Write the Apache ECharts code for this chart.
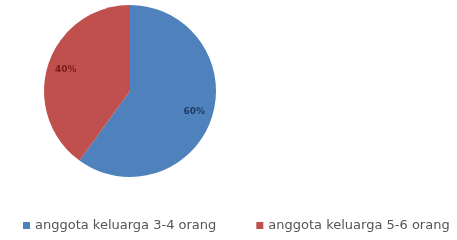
<!DOCTYPE html>
<html>
<head>
<meta charset="utf-8">
<script src="https://cdn.jsdelivr.net/npm/echarts@6/dist/echarts.min.js"></script>
<style>
  html, body { margin: 0; padding: 0; background: #fff; }
  #main { width: 457px; height: 240px; }
</style>
</head>
<body>
<div id="main"></div>
<script>
// data
var categories = ['anggota keluarga 3-4 orang', 'anggota keluarga 5-6 orang'];
var values = [60, 40];
var colors = ['#4f81bd', '#c0504d'];
var labelColors = ['#1f3a66', '#7a1c1a'];

var pieData = categories.map(function (name, i) {
  return { name: name, value: values[i], itemStyle: { color: colors[i] } };
});
var labelData = categories.map(function (name, i) {
  return {
    name: name, value: values[i],
    itemStyle: { color: 'rgba(0,0,0,0)' },
    label: { color: labelColors[i] }
  };
});

var chart = echarts.init(document.getElementById('main'));
chart.setOption({
  animation: false,
  legend: {
    orient: 'horizontal',
    bottom: 8,
    left: 23,
    width: 434,
    padding: 0,
    itemWidth: 7,
    itemHeight: 7,
    itemGap: 40,
    icon: 'rect',
    textStyle: { fontFamily: 'DejaVu Sans', fontSize: 13, color: '#555' },
    data: categories
  },
  series: [
    {
      type: 'pie',
      center: [130, 91],
      radius: 86,
      startAngle: 90,
      label: { show: false },
      labelLine: { show: false },
      data: pieData
    },
    {
      // label only ring, puts the percent labels at ~3/4 of the radius
      type: 'pie',
      center: [130, 91],
      radius: [43, 86],
      startAngle: 90,
      silent: true,
      legendHoverLink: false,
      label: {
        show: true,
        position: 'inside',
        formatter: '{d}%',
        fontFamily: 'DejaVu Sans',
        fontSize: 9,
        fontWeight: 'bold'
      },
      labelLine: { show: false },
      data: labelData
    }
  ]
});
</script>
</body>
</html>
